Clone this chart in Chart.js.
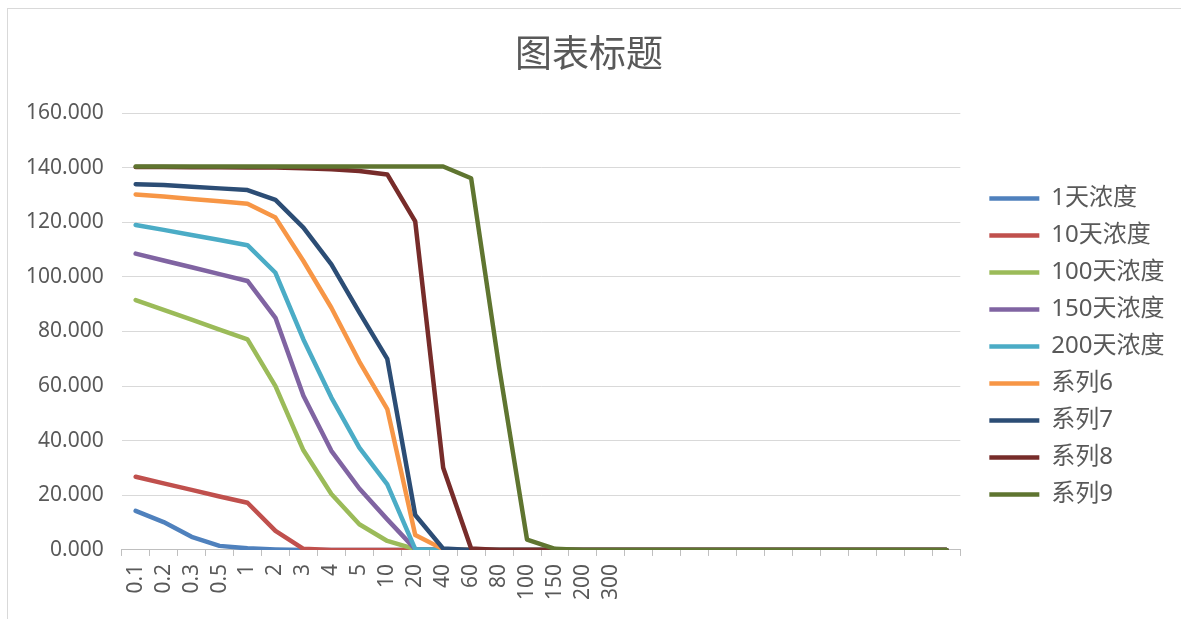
<!DOCTYPE html>
<html>
<head>
<meta charset="utf-8">
<script src="https://cdn.jsdelivr.net/npm/chart.js@4/dist/chart.umd.min.js"></script>
<style>
  html, body { margin: 0; padding: 0; background: #ffffff; }
  #wrap { position: relative; width: 1181px; height: 619px; overflow: hidden; }
  #frame { position: absolute; left: 7px; top: 8px; width: 1180px; height: 620px;
           border-left: 1px solid #d9d9d9; border-top: 1px solid #d9d9d9; pointer-events: none; }
  canvas { display: block; }
</style>
</head>
<body>
<div id="wrap">
  <canvas id="chart" width="1181" height="619"></canvas>
  <div id="frame"></div>
</div>
<script>
// Category axis: distances, followed by empty slots that carry the tail of each curve
const categories = ['0.1', '0.2', '0.3', '0.5', '1', '2', '3', '4', '5', '10', '20', '40', '60', '80', '100', '150', '200', '300',
  '', '', '', '', '', '', '', '', '', '', '', ''];

const seriesNames = ['1天浓度', '10天浓度', '100天浓度', '150天浓度', '200天浓度', '系列6', '系列7', '系列8', '系列9'];
const seriesColors = ['#4F81BD', '#C0504D', '#9BBB59', '#8064A2', '#4BACC6', '#F79646', '#2C4D75', '#772C2A', '#5F7530'];

const day1   = [14.3, 10.2, 4.8, 1.5, 0.6, 0.2, 0, 0, 0, 0, 0, 0, 0, 0, 0, 0, 0, 0, 0, 0, 0, 0, 0, 0, 0, 0, 0, 0, 0, 0];
const day10  = [26.8, 24.4, 22.0, 19.6, 17.3, 7.0, 0.4, 0, 0, 0, 0, 0, 0, 0, 0, 0, 0, 0, 0, 0, 0, 0, 0, 0, 0, 0, 0, 0, 0, 0];
const day100 = [91.5, 87.9, 84.3, 80.7, 77.1, 60.0, 36.5, 20.5, 9.4, 3.3, 0.3, 0, 0, 0, 0, 0, 0, 0, 0, 0, 0, 0, 0, 0, 0, 0, 0, 0, 0, 0];
const day150 = [108.5, 106.0, 103.5, 101.0, 98.5, 85.0, 56.5, 36.3, 22.5, 11.2, 0.3, 0, 0, 0, 0, 0, 0, 0, 0, 0, 0, 0, 0, 0, 0, 0, 0, 0, 0, 0];
const day200 = [119.0, 117.2, 115.3, 113.5, 111.6, 101.5, 77.1, 55.8, 37.5, 24.0, 0.3, 0, 0, 0, 0, 0, 0, 0, 0, 0, 0, 0, 0, 0, 0, 0, 0, 0, 0, 0];
const s6     = [130.2, 129.4, 128.5, 127.7, 126.8, 121.7, 105.8, 88.7, 69.0, 51.6, 5.5, 0.3, 0, 0, 0, 0, 0, 0, 0, 0, 0, 0, 0, 0, 0, 0, 0, 0, 0, 0];
const s7     = [133.9, 133.6, 133.0, 132.4, 131.8, 128.2, 118.0, 104.6, 87.0, 70.0, 12.8, 0.5, 0, 0, 0, 0, 0, 0, 0, 0, 0, 0, 0, 0, 0, 0, 0, 0, 0, 0];
const s8     = [140.2, 140.2, 140.1, 140.1, 140.0, 140.0, 139.8, 139.4, 138.8, 137.5, 120.3, 30.1, 0.5, 0, 0, 0, 0, 0, 0, 0, 0, 0, 0, 0, 0, 0, 0, 0, 0, 0];
const s9     = [140.4, 140.4, 140.4, 140.4, 140.4, 140.4, 140.4, 140.4, 140.4, 140.4, 140.4, 140.4, 136.1, 67.0, 3.8, 0.4, 0, 0, 0, 0, 0, 0, 0, 0, 0, 0, 0, 0, 0, 0];

const yTicks = [0, 20, 40, 60, 80, 100, 120, 140, 160];

const seriesValues = [day1, day10, day100, day150, day200, s6, s7, s8, s9];

const FONT = '"Noto Sans", "Noto Sans CJK SC", sans-serif';
const TEXT = '#595959';

const datasets = seriesValues.map((values, i) => ({
  label: seriesNames[i],
  data: values,
  borderColor: seriesColors[i],
  backgroundColor: seriesColors[i],
  borderWidth: 4.5,
  borderCapStyle: 'round',
  borderJoinStyle: 'round',
  pointRadius: 0,
  pointHoverRadius: 0,
  tension: 0,
  fill: false,
  xAxisID: 'x',
  yAxisID: 'y',
  // later series are painted over earlier ones
  order: seriesValues.length - i
}));

new Chart(document.getElementById('chart'), {
  type: 'line',
  data: { labels: categories, datasets },
  options: {
    responsive: false,
    animation: false,
    events: [],
    layout: { padding: { left: 8, right: 11, top: 8, bottom: 11 } },
    plugins: {
      tooltip: { enabled: false },
      title: {
        display: true,
        text: '图表标题',
        color: TEXT,
        font: { family: FONT, size: 37, weight: 'normal', lineHeight: 1.2 },
        padding: { top: 26, bottom: 34.6 }
      },
      legend: {
        display: true,
        position: 'right',
        align: 'center',
        fullSize: false,
        title: { display: true, text: '', font: { size: 10, lineHeight: 3 }, padding: 0 },
        labels: {
          usePointStyle: true,
          pointStyle: 'line',
          pointStyleWidth: 50,
          padding: 13,
          color: TEXT,
          font: { family: FONT, size: 24 },
          sort: (a, b) => a.datasetIndex - b.datasetIndex
        }
      }
    },
    scales: {
      x: {
        type: 'category',
        offset: true,
        grid: { display: true, drawOnChartArea: false, drawTicks: true, tickLength: 6, color: '#bfbfbf', offset: true },
        border: { display: true, color: '#bfbfbf', width: 1 },
        ticks: {
          autoSkip: false,
          maxRotation: 90,
          minRotation: 90,
          padding: 8,
          color: TEXT,
          font: { family: FONT, size: 21 }
        }
      },
      y: {
        type: 'linear',
        position: 'left',
        min: yTicks[0],
        max: yTicks[yTicks.length - 1],
        afterBuildTicks: (scale) => { scale.ticks = yTicks.map(v => ({ value: v })); },
        grid: { color: '#d9d9d9', lineWidth: 1, drawTicks: false },
        border: { display: false },
        ticks: {
          padding: 18,
          color: TEXT,
          font: { family: FONT, size: 21 },
          callback: (v) => Number(v).toFixed(3)
        }
      },
      gap: {
        type: 'linear',
        axis: 'y',
        position: 'right',
        display: true,
        grid: { display: false },
        border: { display: false },
        ticks: { display: false },
        afterFit: (scale) => { scale.width = 16; }
      }
    }
  }
});
</script>
</body>
</html>
